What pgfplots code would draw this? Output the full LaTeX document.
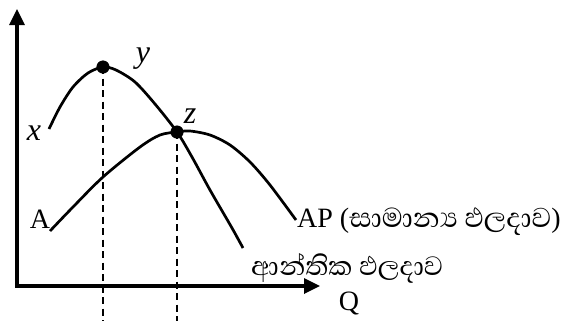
\documentclass[border=0pt]{standalone}
\usepackage{fontspec}
\setmainfont{Liberation Serif}
\newfontfamily\sinhalafont[Script=Sinhala]{Abhaya Libre}
\usepackage{pgfplots}
\pgfplotsset{compat=1.18}
\usetikzlibrary{arrows.meta}

\begin{document}
\begin{tikzpicture}
\begin{axis}[
    scale only axis,
    width=568pt, height=321pt,
    xmin=0, xmax=568, ymin=0, ymax=321,
    y dir=reverse,
    hide axis,
    clip=false,
]
% page frame
\addplot[draw=none] coordinates {(0,0) (568,321)};

% axes
\addplot[line width=3.3pt, -{Triangle[length=16pt,width=15pt]}]
    coordinates {(17,287.6) (17,9)};
\addplot[line width=3.3pt, -{Triangle[length=16pt,width=15pt]}]
    coordinates {(15.4,286) (320,286)};

% dashed guides
\addplot[line width=2pt, dash pattern=on 7pt off 4.5pt]
    coordinates {(103,67) (103,321)};
\addplot[line width=2pt, dash pattern=on 7pt off 4.5pt]
    coordinates {(177,132) (177,321)};

% marginal product
\addplot[line width=2.7pt, smooth, tension=0.5]
    coordinates {(49,129) (60,107) (73,87) (88,73) (103,67) (116,70) (135,82)
                 (155,104) (177,132) (192,157) (210,190) (232,228) (243,248)};

% average product
\addplot[line width=2.7pt, smooth, tension=0.5]
    coordinates {(50,231) (73,207) (103,177) (140,147) (160,135) (177,132)
                 (190,131) (210,135) (230,145) (250,162) (270,185) (296,220)};

% points y and z
\addplot[only marks, mark=*, mark size=6.3pt]
    coordinates {(103,67) (177,132)};

% labels
\node[anchor=base, font=\fontsize{32}{32}\selectfont\itshape] at (axis cs:34,140) {x};
\node[anchor=base, font=\fontsize{32}{32}\selectfont\itshape] at (axis cs:143,62) {y};
\node[anchor=base, font=\fontsize{32}{32}\selectfont\itshape] at (axis cs:190,123) {z};
\node[anchor=base, font=\fontsize{28}{28}\selectfont] at (axis cs:40,228) {A};
\node[anchor=base west, inner sep=0pt, font=\fontsize{28}{28}\selectfont]
    at (axis cs:297,227) {AP {\fontsize{28}{28}\selectfont(}{\sinhalafont\fontsize{35}{35}\selectfont සාමාන්‍ය ඵලදාව}{\fontsize{28}{28}\selectfont)}};
\node[anchor=base west, inner sep=0pt, font=\sinhalafont\fontsize{34}{34}\selectfont]
    at (axis cs:251,275) {ආන්තික ඵලදාව};
\node[anchor=base, font=\fontsize{28}{28}\selectfont] at (axis cs:349,310) {Q};
\end{axis}
\end{tikzpicture}
\end{document}
